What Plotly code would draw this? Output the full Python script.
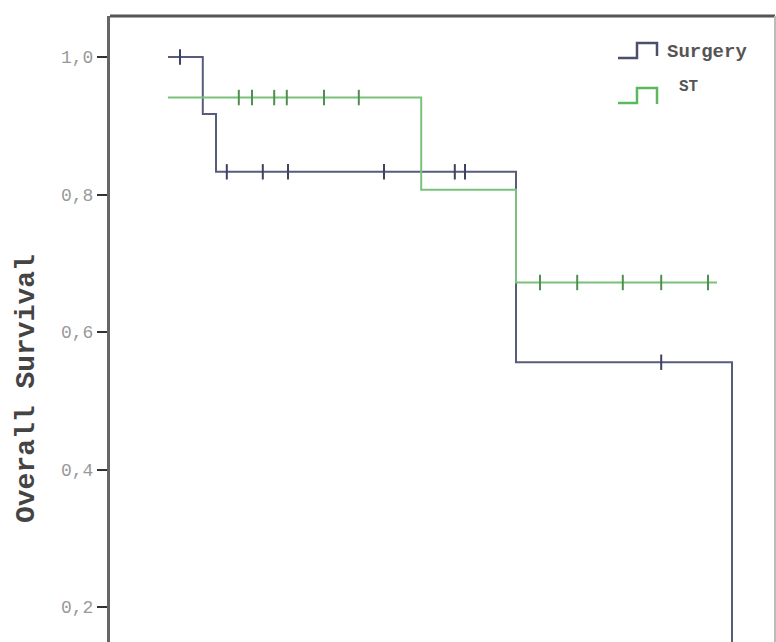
import plotly.graph_objects as go

# Kaplan-Meier data (time in months)
surg_times = [0, 5.8, 8.0, 58.0, 94.0]
surg_surv = [1.0, 0.917, 0.833, 0.556, 0.0]
surg_cens = [2.0, 9.8, 15.8, 20.0, 36.0, 47.8, 49.5, 82.2]

st_times = [0, 42.2, 58.0, 91.5]
st_surv = [0.941, 0.807, 0.672, 0.672]
st_cens = [11.8, 14.0, 17.7, 19.8, 26.0, 31.8, 62.0, 68.2, 75.8, 82.2, 90.0]

y_ticks = [0.2, 0.4, 0.6, 0.8, 1.0]


def step_value(times, surv, t):
    v = surv[0]
    for ti, si in zip(times, surv):
        if ti <= t:
            v = si
    return v


W, H = 776, 642
L, R, T, B = 110, 1, 16, 0
PW, PH = W - L - R, H - T - B


def px(x):
    return (x - L) / PW


def py(y):
    return (H - B - y) / PH


SURG_C = "#575c7c"
ST_C = "#79c279"

fig = go.Figure()
fig.add_trace(go.Scatter(x=surg_times, y=surg_surv, mode="lines", line=dict(color=SURG_C, width=2, shape="hv"),
                         showlegend=False, name="Surgery"))
fig.add_trace(go.Scatter(x=st_times, y=st_surv, mode="lines", line=dict(color=ST_C, width=2, shape="hv"),
                         showlegend=False, name="ST"))
fig.add_trace(go.Scatter(x=surg_cens, y=[step_value(surg_times, surg_surv, t) for t in surg_cens], mode="markers",
                         marker=dict(symbol="line-ns", size=11, line=dict(color="#3e4262", width=2)),
                         showlegend=False))
fig.add_trace(go.Scatter(x=st_cens, y=[step_value(st_times, st_surv, t) for t in st_cens], mode="markers",
                         marker=dict(symbol="line-ns", size=11, line=dict(color="#4f8f4f", width=2)),
                         showlegend=False))


def path(points):
    return "M " + " L ".join(f"{px(a):.5f},{py(b):.5f}" for a, b in points)


shapes = [
    dict(type="line", xref="paper", yref="paper", x0=0, x1=1, y0=1, y1=1, line=dict(color="#555", width=3)),
    dict(type="line", xref="paper", yref="paper", x0=1, x1=1, y0=0, y1=1, line=dict(color="#bbb", width=2)),
    dict(type="path", xref="paper", yref="paper", path=path([(618, 58), (637, 58), (637, 43), (657, 43), (657, 56)]),
         line=dict(color="#4a4f6a", width=2.5)),
    dict(type="path", xref="paper", yref="paper", path=path([(618, 103), (637, 103), (637, 88), (657, 88), (657, 104)]),
         line=dict(color="#5cb85c", width=2.5)),
]

annotations = [
    dict(text="<b>Overall Survival</b>", textangle=-90, xref="paper", yref="paper", x=px(26), y=py(389),
         xanchor="center", yanchor="middle", showarrow=False,
         font=dict(family="Liberation Mono", size=28, color="#444")),
    dict(text="<b>Surgery</b>", xref="paper", yref="paper", x=px(665), y=py(52), xanchor="left", yanchor="middle",
         showarrow=False, font=dict(family="Liberation Mono", size=19, color="#555")),
    dict(text="<b>ST</b>", xref="paper", yref="paper", x=px(677), y=py(87), xanchor="left", yanchor="middle",
         showarrow=False, font=dict(family="Liberation Mono", size=16, color="#555")),
]

fig.update_layout(
    width=W, height=H,
    margin=dict(l=L, r=R, t=T, b=B),
    paper_bgcolor="white", plot_bgcolor="white",
    separators=", ",
    shapes=shapes, annotations=annotations,
    xaxis=dict(range=[(L - 168) / 6, (W - R - 168) / 6], showgrid=False, zeroline=False,
               showticklabels=False, ticks="", showline=False),
    yaxis=dict(range=[0.2 - 35 / 687.5, 1.0 + 41 / 687.5], showgrid=False, zeroline=False,
               tickvals=y_ticks, tickformat=".1f", ticks="outside", ticklen=10, tickwidth=2, tickcolor="#333",
               showline=True, linecolor="#666", linewidth=3,
               tickfont=dict(family="Liberation Mono", size=18, color="#999")),
)

fig.write_html("out.html")
